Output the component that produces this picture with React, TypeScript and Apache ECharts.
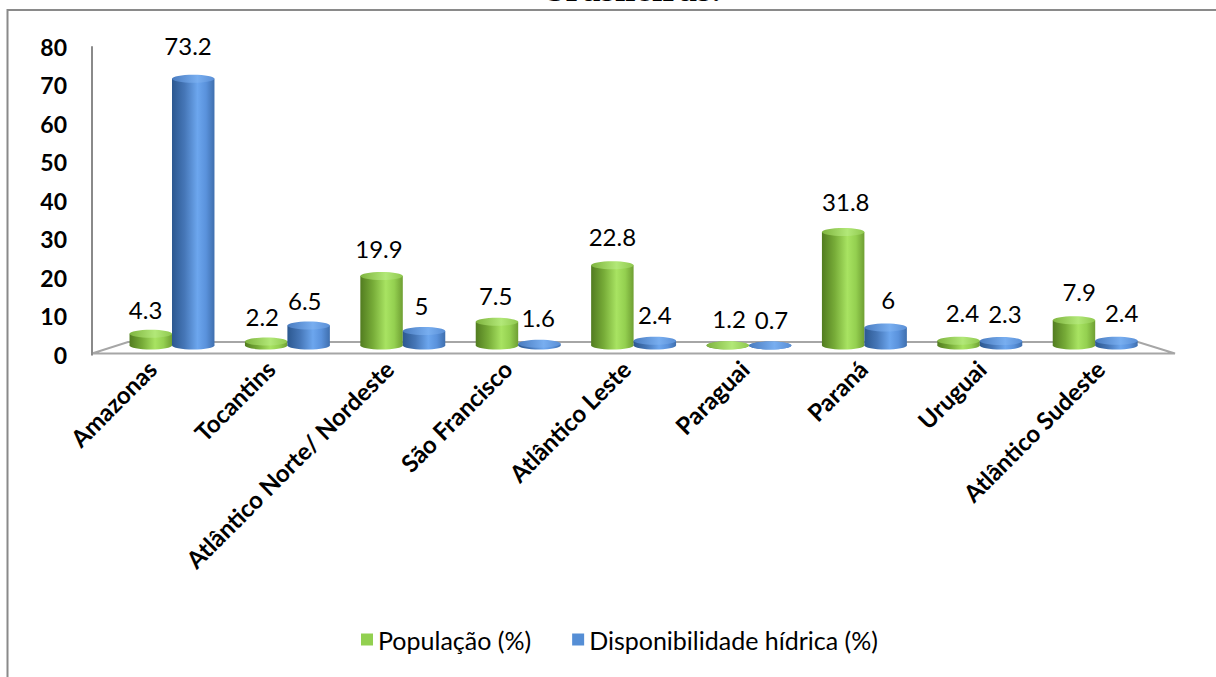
import React, { useEffect, useRef } from "react";
import * as echarts from "echarts";

const categories = [
  "Amazonas",
  "Tocantins",
  "Atlântico Norte/ Nordeste",
  "São Francisco",
  "Atlântico Leste",
  "Paraguai",
  "Paraná",
  "Uruguai",
  "Atlântico Sudeste",
];
const populacao = [4.3, 2.2, 19.9, 7.5, 22.8, 1.2, 31.8, 2.4, 7.9];
const disponibilidade = [73.2, 6.5, 5, 1.6, 2.4, 0.7, 6, 2.3, 2.4];
const yTicks = [0, 80, 10]; // min, max, interval

const FONT = "Lato, 'Open Sans', sans-serif";

const greenBody = new echarts.graphic.LinearGradient(0, 0, 1, 0, [
  { offset: 0, color: "#527c20" },
  { offset: 0.3, color: "#77ac38" },
  { offset: 0.6, color: "#a8e362" },
  { offset: 0.8, color: "#94d050" },
  { offset: 1, color: "#6f9f33" },
]);
const greenTop = new echarts.graphic.LinearGradient(0, 0, 1, 0, [
  { offset: 0, color: "#7fb43f" },
  { offset: 0.6, color: "#b2e878" },
  { offset: 1, color: "#8fc84e" },
]);
const blueBody = new echarts.graphic.LinearGradient(0, 0, 1, 0, [
  { offset: 0, color: "#2c5890" },
  { offset: 0.3, color: "#4677b8" },
  { offset: 0.6, color: "#6ca6ee" },
  { offset: 0.8, color: "#5a92dc" },
  { offset: 1, color: "#3f6fae" },
]);
const blueTop = new echarts.graphic.LinearGradient(0, 0, 1, 0, [
  { offset: 0, color: "#4a7cc0" },
  { offset: 0.6, color: "#78aef0" },
  { offset: 1, color: "#5a8fd6" },
]);

function makeRender(side: number, body: any, top: any) {
  return (params: any, api: any) => {
    const i = api.value(0);
    const v = api.value(1);
    const pTop = api.coord([i, v]);
    const pBase = api.coord([i, 0]);
    const band = api.size([1, 0])[0];
    const w = band * 0.368;
    const cx = pTop[0] + side * (w / 2);
    const ry = 4;
    const baseY = pBase[1] - 4;
    const topY = Math.min(pTop[1], baseY);
    // perspective-like drift of the data labels across the floor
    const drift = (i - 4) * 1.3;
    return {
      type: "group",
      children: [
        {
          type: "ellipse",
          shape: { cx, cy: baseY, rx: w / 2, ry },
          style: { fill: body },
        },
        {
          type: "rect",
          shape: { x: cx - w / 2, y: topY, width: w, height: baseY - topY },
          style: { fill: body },
        },
        {
          type: "ellipse",
          shape: { cx, cy: topY, rx: w / 2, ry },
          style: { fill: top },
        },
        {
          type: "text",
          style: {
            text: String(v),
            x: cx + drift,
            y: topY - 24 - 0.12 * v - 0.5 * i,
            align: "center",
            verticalAlign: "middle",
            font: `24px ${FONT}`,
            fill: "#000",
          },
        },
      ],
    };
  };
}

export default function App() {
  const ref = useRef<HTMLDivElement>(null);
  useEffect(() => {
    document.body.style.margin = "0";
    const chart = echarts.init(ref.current!, null, { renderer: "svg" });
    const bandLeft = 114.3;
    const bandWidth = 1038.6;
    const barTop = 53.6;
    const barHeight = 296;
    chart.setOption({
      animation: false,
      backgroundColor: "#fff",
      graphic: [
        {
          type: "rect",
          shape: { x: 7.5, y: 10, width: 1400, height: 900 },
          style: { fill: "none", stroke: "#8a8a8a", lineWidth: 2 },
          silent: true,
        },
        {
          type: "text",
          x: 545,
          y: -12,
          style: {
            text: "brasileiras.",
            font: "bold 37px 'Liberation Serif', serif",
            fill: "#000",
            align: "left",
            verticalAlign: "middle",
          },
        },
        {
          type: "polygon",
          shape: {
            points: [
              [92, 353.5],
              [128, 342],
              [1138, 342],
              [1175, 353.5],
            ],
          },
          style: { fill: "none", stroke: "#a6a6a6", lineWidth: 2 },
          silent: true,
        },
      ],
      legend: {
        left: 356,
        top: 622,
        icon: "rect",
        itemWidth: 12,
        itemHeight: 12,
        itemGap: 41,
        itemTextGap: 7,
        textStyle: { fontFamily: FONT, fontSize: 25, color: "#000" },
        data: ["População (%)", "Disponibilidade hídrica (%)"],
      },
      grid: [
        { left: 92, top: 47, width: 1080, height: 307.7 },
        { left: bandLeft, top: barTop, width: bandWidth, height: barHeight },
        { left: 92.75, top: barTop, width: 1066.5, height: barHeight },
      ],
      xAxis: [
        { gridIndex: 0, type: "value", show: false },
        {
          gridIndex: 1,
          type: "category",
          data: categories,
          show: false,
        },
        {
          gridIndex: 2,
          type: "category",
          data: categories,
          axisLine: { show: false },
          axisTick: { show: false },
          axisLabel: {
            rotate: 45,
            margin: 15,
            interval: 0,
            fontFamily: FONT,
            fontWeight: "bold",
            fontSize: 24,
            color: "#000",
          },
        },
      ],
      yAxis: [
        {
          gridIndex: 0,
          type: "value",
          min: yTicks[0],
          max: yTicks[1],
          interval: yTicks[2],
          axisLine: { show: true, lineStyle: { color: "#8a8a8a", width: 2 } },
          axisTick: { show: false },
          splitLine: { show: false },
          axisLabel: {
            margin: 25,
            fontFamily: FONT,
            fontWeight: "bold",
            fontSize: 23,
            color: "#000",
          },
        },
        {
          gridIndex: 1,
          type: "value",
          min: yTicks[0],
          max: yTicks[1],
          show: false,
        },
        {
          gridIndex: 2,
          type: "value",
          min: yTicks[0],
          max: yTicks[1],
          show: false,
        },
      ],
      series: [
        {
          name: "População (%)",
          type: "custom",
          xAxisIndex: 1,
          yAxisIndex: 1,
          itemStyle: { color: "#92d050" },
          encode: { x: 0, y: 1 },
          data: populacao.map((v, i) => [i, v]),
          renderItem: makeRender(-1, greenBody, greenTop),
        },
        {
          name: "Disponibilidade hídrica (%)",
          type: "custom",
          xAxisIndex: 1,
          yAxisIndex: 1,
          itemStyle: { color: "#558ed5" },
          encode: { x: 0, y: 1 },
          data: disponibilidade.map((v, i) => [i, v]),
          renderItem: makeRender(1, blueBody, blueTop),
        },
      ],
    });
    return () => chart.dispose();
  }, []);
  return (
    <div
      ref={ref}
      style={{ position: "fixed", left: 0, top: 0, width: 1216, height: 677 }}
    />
  );
}
